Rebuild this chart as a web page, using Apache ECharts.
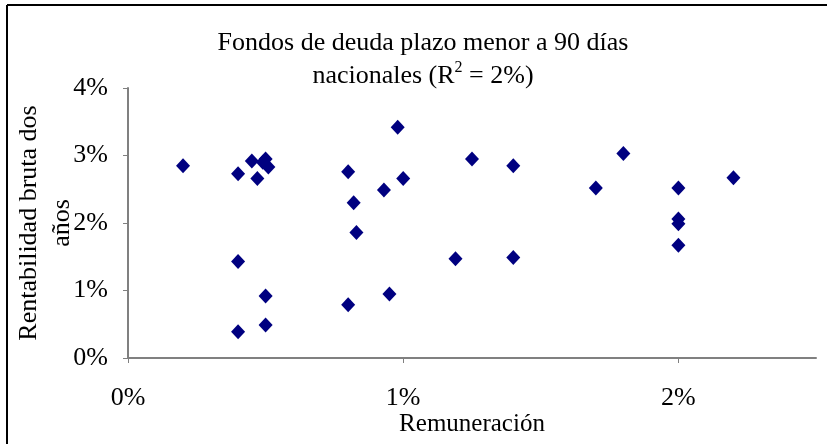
<!DOCTYPE html>
<html lang="es">
<head>
<meta charset="utf-8">
<title>Fondos de deuda plazo menor a 90 días</title>
<script src="https://cdn.jsdelivr.net/npm/echarts@6/dist/echarts.min.js"></script>
<style>
  html, body { margin: 0; padding: 0; background: #fff; }
</style>
</head>
<body>
<div id="main" style="width: 827px; height: 444px;"></div>
<script>
// Remuneración (%) y rentabilidad bruta dos años (%)
var remuneracion = [0.20, 0.40, 0.45, 0.47, 0.50, 0.49, 0.51, 0.40, 0.50, 0.50, 0.40,
                    0.80, 0.82, 0.83, 0.80, 0.93, 0.98, 1.00, 0.95, 1.19, 1.25, 1.40,
                    1.40, 1.70, 1.80, 2.00, 2.00, 2.00, 2.00, 2.20];
var rentabilidad = [2.85, 2.73, 2.92, 2.66, 2.95, 2.90, 2.83, 1.43, 0.92, 0.49, 0.39,
                    2.76, 2.30, 1.86, 0.79, 2.49, 3.42, 2.66, 0.95, 1.47, 2.95, 2.85,
                    1.49, 2.52, 3.03, 2.52, 2.06, 1.99, 1.67, 2.67];
var xTicks = [0, 1, 2];
var yTicks = [0, 1, 2, 3, 4];

var font = 'Liberation Serif';
var puntos = remuneracion.map(function (x, i) { return [x, rentabilidad[i]]; });

var myChart = echarts.init(document.getElementById('main'));

var option = {
    backgroundColor: '#fff',
    animation: false,
    title: {
        text: 'Fondos de deuda plazo menor a 90 días\nnacionales (R{sup|2} = 2%)',
        left: 423,
        top: 27,
        padding: 0,
        textAlign: 'center',
        textStyle: {
            fontFamily: font,
            fontSize: 26,
            fontWeight: 'normal',
            color: '#000',
            lineHeight: 33,
            rich: {
                sup: { fontFamily: font, fontSize: 16, verticalAlign: 'top', lineHeight: 22, color: '#000' }
            }
        }
    },
    grid: { left: 128, right: 11, top: 88, bottom: 86, outerBoundsMode: 'none' },
    xAxis: {
        type: 'value',
        min: 0,
        max: 2.5,
        interval: 1,
        name: 'Remuneración',
        nameLocation: 'middle',
        nameGap: 54,
        nameMoveOverlap: false,
        nameTextStyle: { fontFamily: font, fontSize: 25, color: '#000' },
        splitLine: { show: false },
        axisLine: { show: true, lineStyle: { color: '#808080', width: 2 } },
        axisTick: { show: true, length: 5, customValues: xTicks, lineStyle: { color: '#808080' } },
        axisLabel: {
            customValues: xTicks,
            margin: 27,
            fontFamily: font, fontSize: 26, color: '#000',
            formatter: '{value}%'
        }
    },
    yAxis: {
        type: 'value',
        min: 0,
        max: 4,
        interval: 1,
        name: 'Rentabilidad bruta dos\naños',
        nameLocation: 'middle',
        nameRotate: 90,
        nameGap: 49,
        nameMoveOverlap: false,
        nameTextStyle: { fontFamily: font, fontSize: 26, color: '#000', lineHeight: 33 },
        splitLine: { show: false },
        axisLine: { show: true, lineStyle: { color: '#808080', width: 2 } },
        axisTick: { show: true, length: 5, customValues: yTicks, lineStyle: { color: '#808080' } },
        axisLabel: {
            customValues: yTicks,
            margin: 20,
            fontFamily: font, fontSize: 26, color: '#000',
            formatter: '{value}%'
        }
    },
    graphic: [
        { type: 'line', shape: { x1: 7, y1: 5, x2: 7, y2: 444 }, style: { stroke: '#000', lineWidth: 2 } },
        { type: 'line', shape: { x1: 7, y1: 5, x2: 827, y2: 5 }, style: { stroke: '#000', lineWidth: 2 } }
    ],
    series: [{
        type: 'scatter',
        symbol: 'diamond',
        symbolSize: [14, 15],
        itemStyle: { color: '#000080', opacity: 1 },
        data: puntos
    }]
};

myChart.setOption(option);
</script>
</body>
</html>
